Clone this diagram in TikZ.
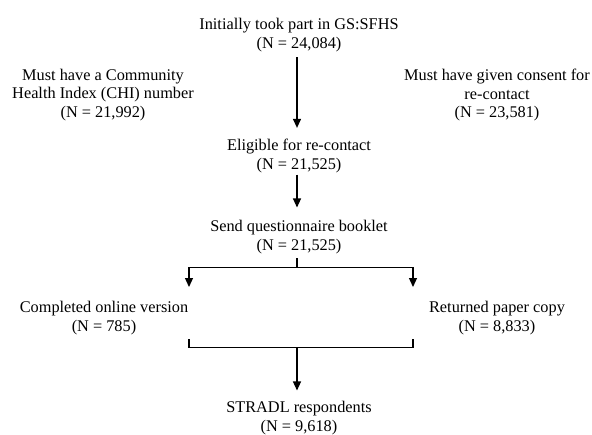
\documentclass[tikz,border=0pt]{standalone}
\usepackage{fontspec}
\setmainfont{Liberation Serif}
\usetikzlibrary{arrows.meta}
\tikzset{
  txt/.style={align=center, inner sep=0pt, font=\fontsize{16.3}{18.5}\selectfont},
  link/.style={line width=1.2pt},
  arr/.style={link, -{Triangle[length=9pt,width=8pt]}}
}
\begin{document}
\begin{tikzpicture}[x=1pt,y=-1pt]
        \useasboundingbox (0,0) rectangle (592,434);
        % spine and bracket positions
        \def\spine{297}
        \def\lft{189}
        \def\rgt{413}
        \coordinate (spine) at (\spine,0);

        % Top - initial cohort
        \node[txt] (init) at (299,35.3) {Initially took part in GS:SFHS\\(N = 24,084)};

        % Side criteria
        \node[txt] (chi) at (103,95) {Must have a Community\\Health Index (CHI) number\\(N = 21,992)};
        \node[txt] (consent) at (497,95) {Must have given consent for\\re-contact\\(N = 23,581)};

        % Eligible and mailed
        \node[txt] (elig) at (299,155.8) {Eligible for re-contact\\(N = 21,525)};
        \node[txt] (send) at (299,237.3) {Send questionnaire booklet\\(N = 21,525)};

        % Two ways of returning
        \node[txt] (online) at (104,318.3) {Completed online version\\(N = 785)};
        \node[txt] (paper) at (497,318.3) {Returned paper copy\\(N = 8,833)};

        % Bottom - respondents
        \node[txt] (stradl) at (299,418.3) {STRADL respondents\\(N = 9,618)};

        % Main line
        \draw[arr, shorten <=5pt, shorten >=11pt] (init.south -| spine) -- (elig.north -| spine);
        \draw[arr, shorten <=2pt, shorten >=13pt] (elig.south -| spine) -- (send.north -| spine);

        % Split
        \coordinate (split) at (\spine,267.5);
        \coordinate (paperin) at (\rgt,287);
        \draw[link, shorten <=4pt] (send.south -| spine) -- (split);
        \draw[arr] (split) -| (\lft,287) coordinate (onlinein);
        \draw[arr] (split) -| (paperin);

        % Join
        \coordinate (onlineout) at (\lft,339);
        \coordinate (paperout) at (\rgt,339);
        \coordinate (join) at (\spine,347.5);
        \draw[link] (onlineout) |- (join) -| (paperout);
        \draw[arr, shorten >=11pt] (join) -- (join |- stradl.north);
    \end{tikzpicture}
\end{document}
